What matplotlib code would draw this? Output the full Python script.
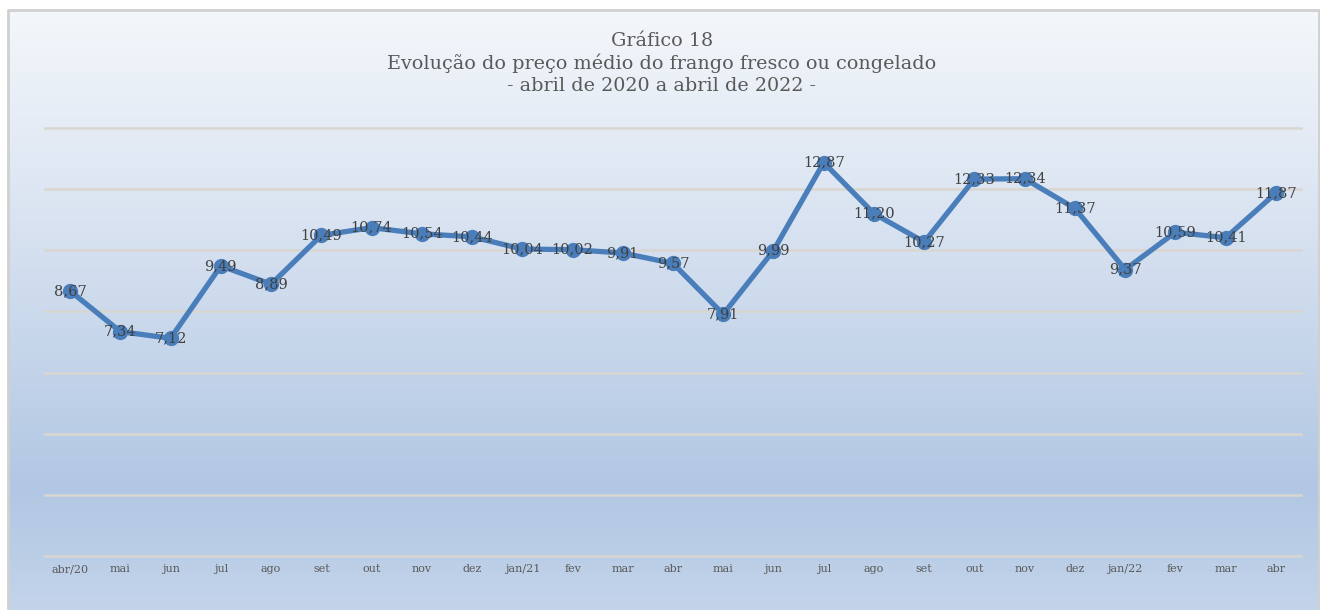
import numpy as np
import matplotlib.pyplot as plt
from matplotlib.colors import LinearSegmentedColormap

plt.rcParams['font.family'] = ['DejaVu Serif']

meses = ["abr/20", "mai", "jun", "jul", "ago", "set", "out", "nov", "dez",
         "jan/21", "fev", "mar", "abr", "mai", "jun", "jul", "ago", "set",
         "out", "nov", "dez", "jan/22", "fev", "mar", "abr"]
precos = [8.67, 7.34, 7.12, 9.49, 8.89, 10.49, 10.74, 10.54, 10.44, 10.04,
          10.02, 9.91, 9.57, 7.91, 9.99, 12.87, 11.20, 10.27, 12.33, 12.34,
          11.37, 9.37, 10.59, 10.41, 11.87]

W, H = 1320, 610
fig = plt.figure(figsize=(W / 100, H / 100), dpi=100)
fig.patch.set_facecolor('white')

# background gradient inside frame
bg = fig.add_axes([8 / W, 0, (W - 9) / W, (H - 10) / H])
bg.set_axis_off()
cmap_bg = LinearSegmentedColormap.from_list(
    "bg", [(0.0, "#f4f7fb"), (0.35, "#d9e3f1"), (0.8, "#b1c7e3"), (1.0, "#c3d4ea")])
grad = np.linspace(0, 1, 256).reshape(-1, 1)
bg.imshow(grad, aspect='auto', cmap=cmap_bg, extent=[0, 1, 0, 1], origin='upper')
bg.set_xlim(0, 1)
bg.set_ylim(0, 1)
bg.plot([0, 0, 1, 1], [0, 1, 1, 0], color="#d0d0d0", lw=2, clip_on=False)

ax = fig.add_axes([45 / W, (H - 556) / H, (1301 - 45) / W, (556 - 128) / H])
ax.set_facecolor('none')
x = np.arange(len(precos))
ax.set_xlim(-0.5, len(precos) - 0.5)
ax.set_ylim(0, 14)
ax.set_yticks(np.arange(0, 15, 2))
ax.yaxis.grid(True, color="#d9d6d0", lw=1.8)
for gl in ax.get_ygridlines():
    gl.set_clip_on(False)
ax.set_axisbelow(True)
ax.tick_params(axis='y', left=False, labelleft=False)
ax.tick_params(axis='x', length=0, labelsize=8, labelcolor="#595959", pad=6)
ax.set_xticks(x)
ax.set_xticklabels(meses)
for s in ax.spines.values():
    s.set_visible(False)

ax.plot(x, precos, color="#4a7ebb", lw=3.8, marker='o', ms=10,
        markerfacecolor="#4a7ebb", markeredgecolor="#4a7ebb", zorder=3,
        solid_joinstyle='round')
for xi, v in zip(x, precos):
    ax.text(xi, v, f"{v:.2f}".replace(".", ","), ha='center', va='center',
            fontsize=10.5, color="#404040", zorder=4)

titulo = ["Gráfico 18",
          "Evolução do preço médio do frango fresco ou congelado",
          "- abril de 2020 a abril de 2022 -"]
for yy, t in zip([41, 63, 86], titulo):
    fig.text(662 / W, 1 - yy / H, t, ha='center', va='center',
             fontsize=13.8, color="#595959")

fig.savefig("out.png", dpi=100)
